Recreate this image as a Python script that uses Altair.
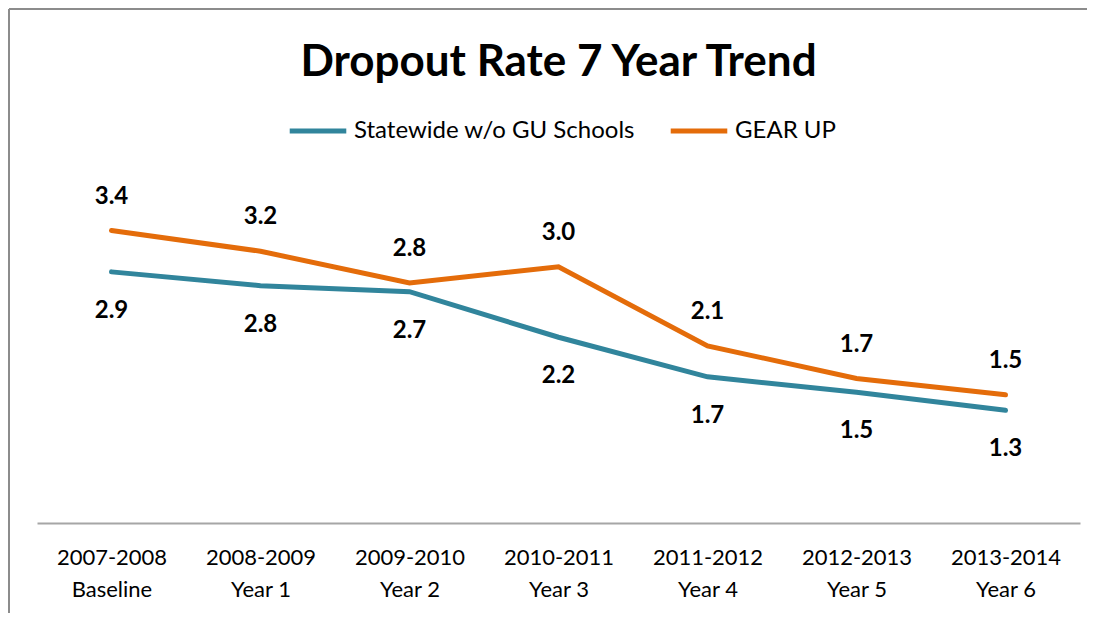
import altair as alt
import pandas as pd

categories = ["2007-2008|Baseline", "2008-2009|Year 1", "2009-2010|Year 2", "2010-2011|Year 3",
              "2011-2012|Year 4", "2012-2013|Year 5", "2013-2014|Year 6"]
statewide = [2.92, 2.76, 2.69, 2.16, 1.70, 1.52, 1.31]
gearup = [3.40, 3.16, 2.79, 2.98, 2.06, 1.68, 1.49]
series_names = ["Statewide w/o GU Schools", "GEAR UP"]
series_colors = ["#31859C", "#E46C0A"]

rows = []
for i, c in enumerate(categories):
    rows.append({"cat": c, "series": series_names[0], "value": statewide[i], "order": i})
    rows.append({"cat": c, "series": series_names[1], "value": gearup[i], "order": i})
df = pd.DataFrame(rows)

FONT = "Lato"

x_enc = alt.X("cat:N", sort=categories,
              scale=alt.Scale(type="point", padding=0.5),
              axis=alt.Axis(title=None, labelExpr="split(datum.value, '|')",
                            labelFontSize=22, labelFont=FONT, labelColor="#000000",
                            labelPadding=24, labelLineHeight=32, labelAngle=0,
                            ticks=False, domainColor="#A6A6A6", domainWidth=2,
                            grid=False, labelBaseline="top"))
y_enc = alt.Y("value:Q", scale=alt.Scale(domain=[0, 4]), axis=None)
color_enc = alt.Color("series:N", scale=alt.Scale(domain=series_names, range=series_colors),
                      legend=alt.Legend(title=None, orient="none", direction="horizontal",
                                        legendX=250, legendY=-79,
                                        symbolType="stroke", symbolSize=3200,
                                        symbolStrokeWidth=5, labelFont=FONT,
                                        labelFontSize=24, labelColor="#000000",
                                        labelLimit=0, labelOffset=5, columnPadding=25))

base = alt.Chart(df)

lines = base.mark_line(strokeWidth=5, strokeCap="round").encode(
    x=x_enc, y=y_enc, color=color_enc, detail="series:N", order="order:Q")

labels_top = base.transform_filter(alt.datum.series == series_names[1]).mark_text(
    dy=-34, fontSize=24, fontWeight="bold", font=FONT, color="#000000").encode(
    x=alt.X("cat:N", sort=categories), y="value:Q", text=alt.Text("value:Q", format=".1f"))

labels_bot = base.transform_filter(alt.datum.series == series_names[0]).mark_text(
    dy=39, fontSize=24, fontWeight="bold", font=FONT, color="#000000").encode(
    x=alt.X("cat:N", sort=categories), y="value:Q", text=alt.Text("value:Q", format=".1f"))

one = alt.Chart(pd.DataFrame({"a": [0]}))
border_left = one.mark_rule(color="#8C8C8C", strokeWidth=2).encode(
    x=alt.value(-28), y=alt.value(-170), y2=alt.value(440))
border_top = one.mark_rule(color="#8C8C8C", strokeWidth=2).encode(
    x=alt.value(-28), x2=alt.value(1060), y=alt.value(-170))

chart = alt.layer(border_left, border_top, lines, labels_top, labels_bot).properties(
    width=1043, height=344,
    background="white",
    autosize=alt.AutoSizeParams(type="none"),
    padding={"left": 29, "top": 171, "right": 7, "bottom": 90},
    title=alt.TitleParams("Dropout Rate 7 Year Trend", font=FONT, fontSize=44,
                          fontWeight="bold", color="#000000", anchor="middle",
                          frame="group", offset=-77),
).configure_view(strokeWidth=0, stroke="transparent")

chart.save("out.html", embed_options={"renderer": "svg", "actions": False})
